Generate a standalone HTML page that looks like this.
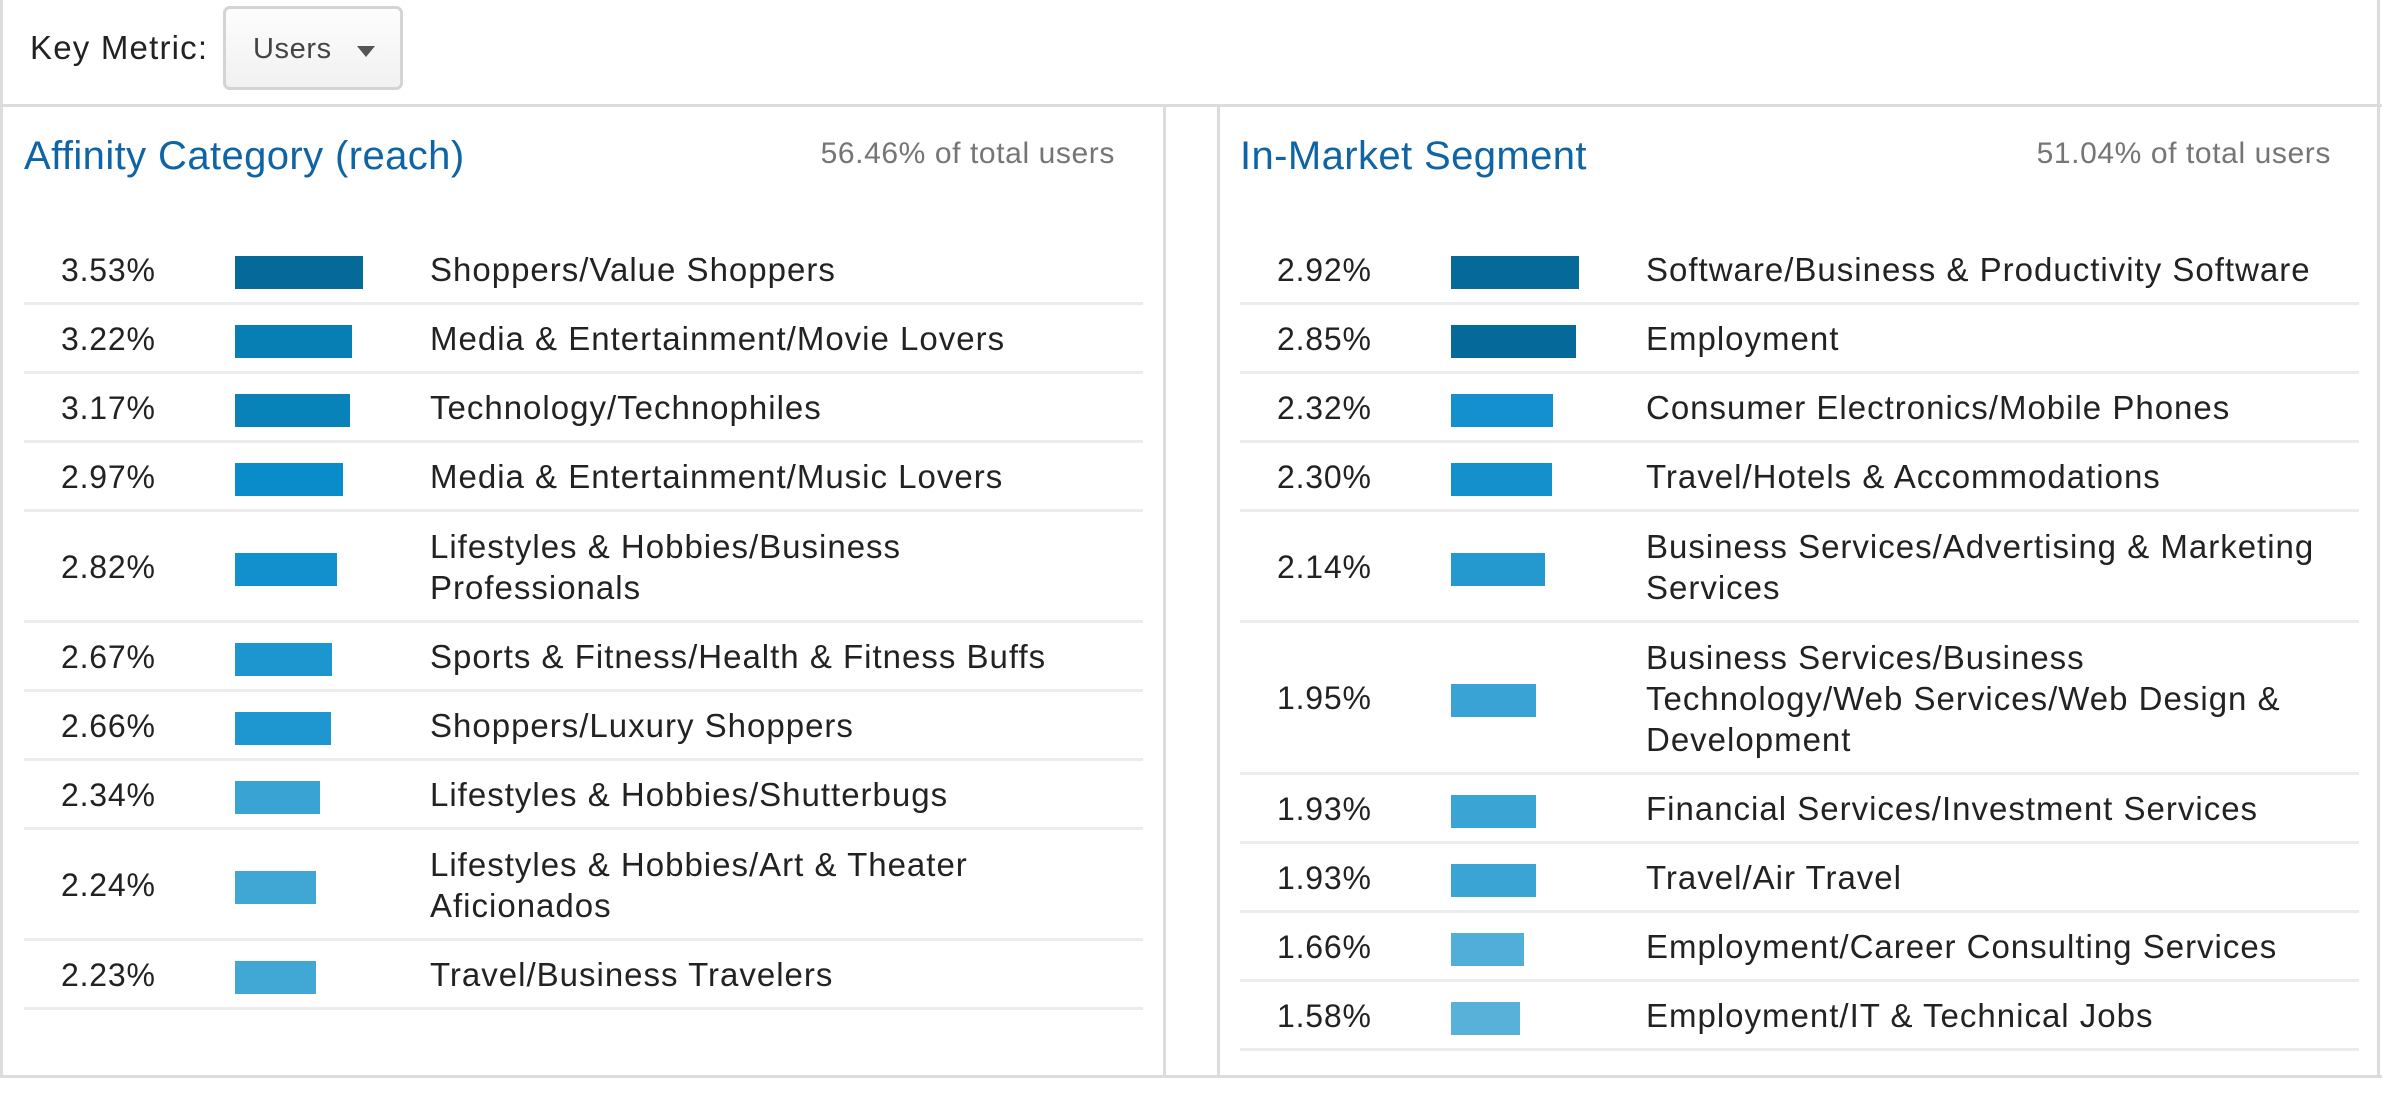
<!DOCTYPE html>
<html><head><meta charset="utf-8">
<style>
body{margin:0;width:2382px;height:1095px;background:#fff;position:relative;overflow:hidden;font-family:"Liberation Sans",sans-serif;}
.abs{position:absolute;}
.txt{font-size:32px;color:#222;letter-spacing:0.8px;white-space:nowrap;}
.lbl{font-size:33px;color:#222;letter-spacing:1px;line-height:41px;white-space:nowrap;}
.hline{position:absolute;height:3px;background:#ececec;}
</style></head><body>
<div class="abs txt" style="left:30px;top:29px;font-size:33px;letter-spacing:1.2px;color:#222">Key Metric:</div>
<div class="abs" style="left:223px;top:6px;width:180px;height:84px;border:3px solid #d4d4d4;border-radius:7px;background:linear-gradient(#fdfdfd,#f1f1f1);box-sizing:border-box;">
  <span class="abs" style="left:27px;top:24px;font-size:29px;letter-spacing:0.6px;color:#444">Users</span>
  <span class="abs" style="left:131px;top:37px;width:0;height:0;border-left:9px solid transparent;border-right:9px solid transparent;border-top:11px solid #555"></span>
</div>
<div class="abs" style="left:0;top:104px;width:2382px;height:3px;background:#dcdcdc"></div>
<div class="abs" style="left:0;top:1075px;width:2382px;height:3px;background:#dcdcdc"></div>
<div class="abs" style="left:0;top:0;width:3px;height:1077px;background:#dcdcdc"></div>
<div class="abs" style="left:1163px;top:105px;width:3px;height:971px;background:#dcdcdc"></div>
<div class="abs" style="left:1217px;top:105px;width:3px;height:971px;background:#dcdcdc"></div>
<div class="abs" style="left:2377px;top:0;width:3px;height:1077px;background:#dcdcdc"></div>

<div class="abs" style="left:24px;top:134px;font-size:40px;letter-spacing:0.4px;color:#0f64a6">Affinity Category (reach)</div>
<div class="abs" style="right:1267px;top:137px;font-size:30px;color:#757575;letter-spacing:0.6px">56.46% of total users</div>
<div class="abs" style="left:1240px;top:134px;font-size:40px;letter-spacing:0.4px;color:#0f64a6">In-Market Segment</div>
<div class="abs" style="right:51px;top:137px;font-size:30px;color:#757575;letter-spacing:0.6px">51.04% of total users</div>

<div id="chart"></div>
<script>
const affinityValues=[3.53,3.22,3.17,2.97,2.82,2.67,2.66,2.34,2.24,2.23];
const affinityLabels=[["Shoppers/Value Shoppers"],["Media & Entertainment/Movie Lovers"],["Technology/Technophiles"],["Media & Entertainment/Music Lovers"],["Lifestyles & Hobbies/Business","Professionals"],["Sports & Fitness/Health & Fitness Buffs"],["Shoppers/Luxury Shoppers"],["Lifestyles & Hobbies/Shutterbugs"],["Lifestyles & Hobbies/Art & Theater","Aficionados"],["Travel/Business Travelers"]];
const marketValues=[2.92,2.85,2.32,2.30,2.14,1.95,1.93,1.93,1.66,1.58];
const marketLabels=[["Software/Business & Productivity Software"],["Employment"],["Consumer Electronics/Mobile Phones"],["Travel/Hotels & Accommodations"],["Business Services/Advertising & Marketing","Services"],["Business Services/Business","Technology/Web Services/Web Design &","Development"],["Financial Services/Investment Services"],["Travel/Air Travel"],["Employment/Career Consulting Services"],["Employment/IT & Technical Jobs"]];

const stops=[[1,[5,105,154]],[0.95,[5,105,154]],[0.91,[7,128,182]],[0.84,[10,139,202]],[0.78,[22,146,206]],[0.66,[58,164,212]],[0.5,[98,182,219]]];
function colorFor(r){
  for(let i=0;i<stops.length-1;i++){
    const a=stops[i],b=stops[i+1];
    if(r<=a[0]&&r>=b[0]){const t=(a[0]-r)/(a[0]-b[0]);
      return 'rgb('+a[1].map((c,k)=>Math.round(c+(b[1][k]-c)*t)).join(',')+')';}
  }
  return 'rgb(98,182,219)';
}
const root=document.getElementById('chart');
function drawPanel(values,labels,x0,prefix){
  const max=Math.max(...values);
  const barMax=128;
  let y=234;
  values.forEach((v,i)=>{
    const lines=labels[i].length;
    const h=lines===1?69:(lines===2?111:152);
    const cy=y+h/2;
    const p=document.createElement('div');
    p.className='abs txt';
    
    
    p.style.left=(x0+37)+'px';p.style.top=(cy-17)+'px';
    p.textContent=v.toFixed(2)+'%';
    root.appendChild(p);
    const b=document.createElement('div');
    b.className='abs';
    
    
    b.style.left=(x0+211)+'px';b.style.top=(cy-13)+'px';
    b.style.height='33px';b.style.width=Math.round(v/max*barMax)+'px';
    b.style.background=colorFor(v/max);
    root.appendChild(b);
    const l=document.createElement('div');
    l.className='abs lbl';
    
    
    l.style.left=(x0+406)+'px';l.style.top=(cy-lines*41/2+1)+'px';
    l.innerHTML=labels[i].map(s=>s.replace(/&/g,'&amp;')).join('<br>');
    root.appendChild(l);
    y+=h;
    const hl=document.createElement('div');
    hl.className='hline';
    
    
    hl.style.left=x0+'px';hl.style.top=(y-1)+'px';hl.style.width='1119px';
    root.appendChild(hl);
  });
}
drawPanel(affinityValues,affinityLabels,24,'affinity');
drawPanel(marketValues,marketLabels,1240,'market');
</script>
</body></html>
